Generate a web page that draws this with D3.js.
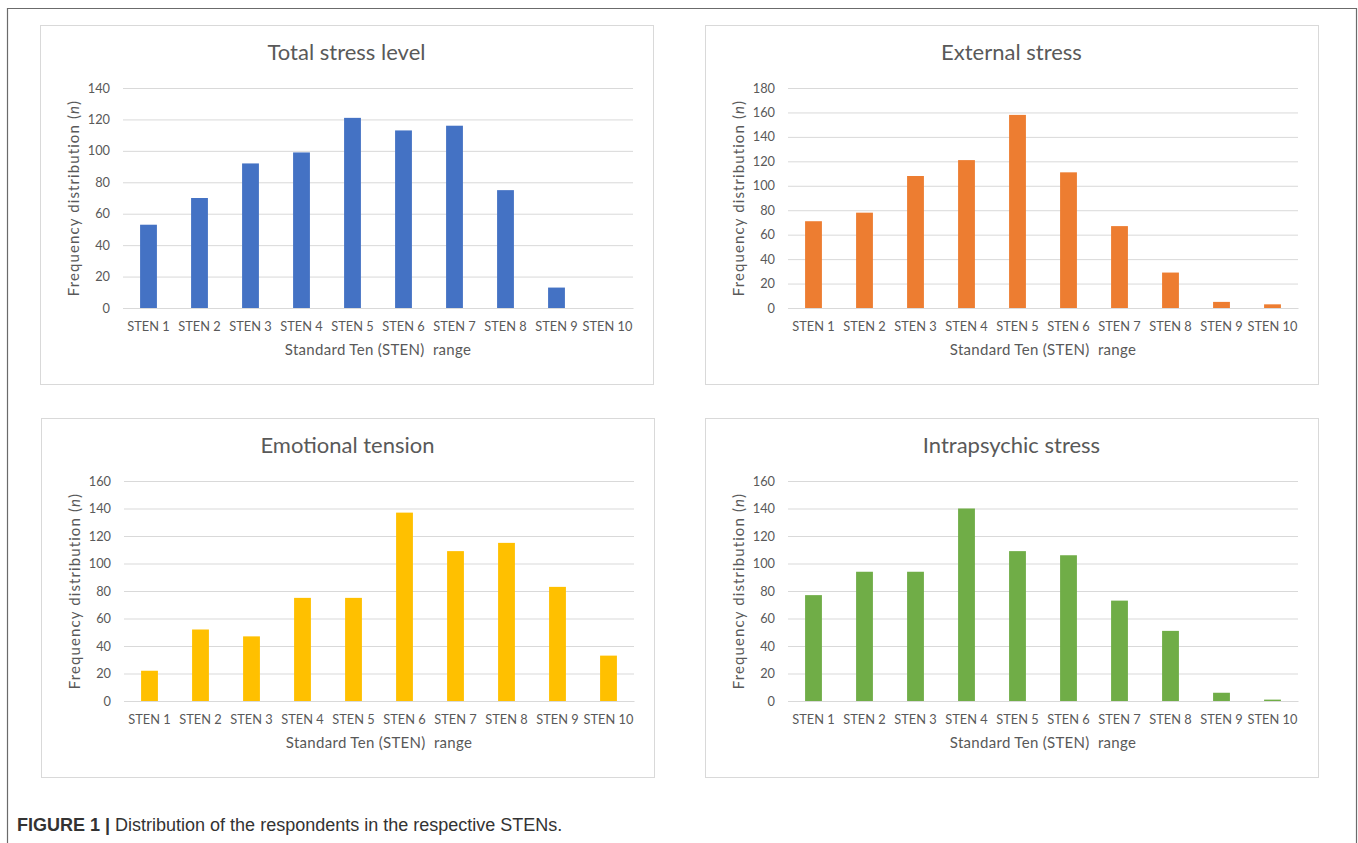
<!DOCTYPE html>
<html>
<head>
<meta charset="utf-8">
<title>Distribution of the respondents in the respective STENs</title>
<script src="https://cdn.jsdelivr.net/npm/d3@7"></script>
<style>
* {
    margin: 0;
    padding: 0;
}
body {
    background: #fff;
}
.chartTitle {
    font-family: Lato, "Open Sans", sans-serif;
    font-size: 22px;
    fill: #595959;
}
.tick text {
    font-family: Lato, "Open Sans", sans-serif;
    font-size: 12.8px;
    fill: #595959;
}
.axisTitle {
    font-family: Lato, "Open Sans", sans-serif;
    font-size: 15px;
    fill: #595959;
}
.caption {
    font-family: "Liberation Sans", Arial, sans-serif;
    font-size: 18px;
    fill: #333;
}
</style>
</head>
<body>
<svg width="1358" height="843" id="fig"></svg>
<script>
// data
var categories = ["STEN 1", "STEN 2", "STEN 3", "STEN 4", "STEN 5",
                  "STEN 6", "STEN 7", "STEN 8", "STEN 9", "STEN 10"];
var totalStress = [53, 70, 92, 99, 121, 113, 116, 75, 13, 0];
var externalStress = [71, 78, 108, 121, 158, 111, 67, 29, 5, 3];
var emotionalTension = [22, 52, 47, 75, 75, 137, 109, 115, 83, 33];
var intrapsychicStress = [77, 94, 94, 140, 109, 106, 73, 51, 6, 1];
var chartTitles = ["Total stress level", "External stress", "Emotional tension", "Intrapsychic stress"];
var yMaxima = [140, 180, 160, 160];
var yStep = 20;

var svg = d3.select("#fig");

// outer figure frame (open at the bottom)
svg.append("path")
    .attr("d", "M7.5,843 V8.5 H1356.5 V843")
    .attr("fill", "none")
    .attr("stroke", "#6b6b6b")
    .attr("stroke-width", 1.2);

var panels = [
    {x: 40, y: 25, values: totalStress, color: "#4472C4"},
    {x: 705, y: 25, values: externalStress, color: "#ED7D31"},
    {x: 41, y: 418, values: emotionalTension, color: "#FFC000"},
    {x: 705, y: 418, values: intrapsychicStress, color: "#70AD47"}
];
var panelW = 613, panelH = 359;
var margin = {top: 63, left: 83, right: 20, bottom: 76};

panels.forEach(function(p, i) {
    var g = svg.append("g").attr("transform", "translate(" + p.x + "," + p.y + ")");

    g.append("rect")
        .attr("x", 0.5).attr("y", 0.5)
        .attr("width", panelW).attr("height", panelH)
        .attr("fill", "#fff")
        .attr("stroke", "#d9d9d9");

    g.append("text")
        .attr("class", "chartTitle")
        .attr("x", panelW / 2)
        .attr("y", 35)
        .attr("text-anchor", "middle")
        .text(chartTitles[i]);

    var width = panelW - margin.left - margin.right,
        height = panelH - margin.top - margin.bottom;
    var plot = g.append("g").attr("transform", "translate(" + margin.left + "," + margin.top + ")");

    var x = d3.scaleBand().domain(categories).range([0, width]).paddingInner(0.67).paddingOuter(0.335);
    var y = d3.scaleLinear().domain([0, yMaxima[i]]).range([height, 0]);
    var ticks = d3.range(0, yMaxima[i] + 1, yStep);

    // gridlines
    plot.append("g")
        .call(d3.axisLeft(y).tickValues(ticks).tickSize(-width).tickFormat(""))
        .call(function(s) { s.select(".domain").remove(); })
        .selectAll("line").attr("stroke", "#d9d9d9");

    // y tick labels
    plot.append("g")
        .call(d3.axisLeft(y).tickValues(ticks).tickSize(0).tickPadding(13))
        .call(function(s) { s.select(".domain").remove(); });

    plot.selectAll(".bar")
        .data(p.values)
        .enter().append("rect")
        .attr("class", "bar")
        .attr("x", function(d, j) { return x(categories[j]); })
        .attr("width", x.bandwidth())
        .attr("y", function(d) { return y(d); })
        .attr("height", function(d) { return height - y(d); })
        .attr("fill", p.color);

    // x axis
    var xa = plot.append("g")
        .attr("transform", "translate(0," + height + ")")
        .call(d3.axisBottom(x).tickSize(0).tickPadding(14));
    xa.select(".domain").attr("stroke", "#d9d9d9");

    g.append("text")
        .attr("class", "axisTitle")
        .attr("x", margin.left + width / 2)
        .attr("y", panelH - 29)
        .attr("text-anchor", "middle")
        .attr("letter-spacing", 0.3)
        .attr("xml:space", "preserve")
        .text("Standard Ten (STEN)  range");

    var yt = g.append("text")
        .attr("class", "axisTitle")
        .attr("transform", "translate(39," + (margin.top + height / 2) + ") rotate(-90)")
        .attr("text-anchor", "middle")
        .attr("letter-spacing", 1.1);
    yt.append("tspan").text("Frequency distribution (");
    yt.append("tspan").attr("font-style", "italic").text("n");
    yt.append("tspan").text(")");
});

var cap = svg.append("text")
    .attr("class", "caption")
    .attr("x", 17)
    .attr("y", 831);
cap.append("tspan").attr("font-weight", "bold").text("FIGURE 1 | ");
cap.append("tspan").text("Distribution of the respondents in the respective STENs.");
</script>
</body>
</html>
